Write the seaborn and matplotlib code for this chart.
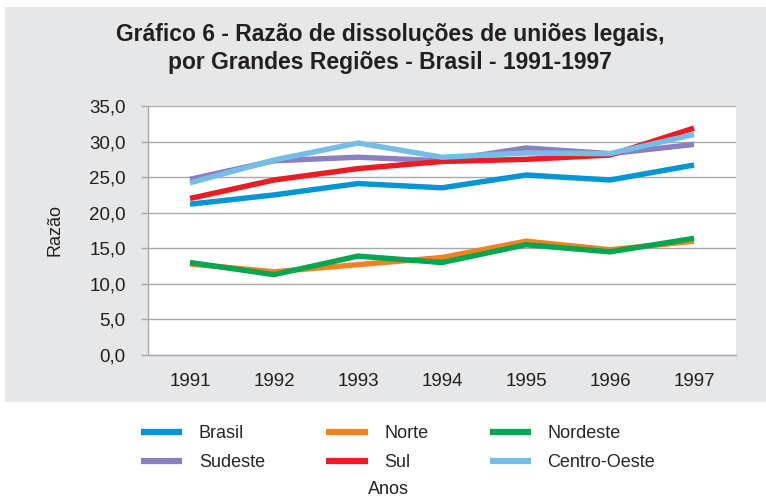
import pandas as pd
import seaborn as sns
import matplotlib
matplotlib.use("Agg")  # Use a non-interactive backend
import matplotlib.pyplot as plt
from matplotlib.patches import Rectangle

# Data
years = [1991, 1992, 1993, 1994, 1995, 1996, 1997]
regions = ["Brasil", "Norte", "Nordeste", "Sudeste", "Sul", "Centro-Oeste"]
brasil = [21.2, 22.5, 24.1, 23.5, 25.3, 24.6, 26.7]
norte = [12.8, 11.7, 12.7, 13.7, 16.0, 14.8, 16.0]
nordeste = [13.0, 11.3, 13.9, 13.0, 15.5, 14.5, 16.4]
sudeste = [24.7, 27.3, 27.8, 27.3, 29.1, 28.3, 29.6]
sul = [22.0, 24.6, 26.2, 27.2, 27.5, 28.1, 31.9]
centro_oeste = [24.2, 27.4, 29.8, 27.8, 28.4, 28.3, 31.0]
y_ticks = [0, 5, 10, 15, 20, 25, 30, 35]

colors = ["#0096d6", "#f58220", "#00a650", "#8c7fc0", "#ed1c24", "#74bde8"]

series = [brasil, norte, nordeste, sudeste, sul, centro_oeste]
df = pd.DataFrame({
    "Ano": years * len(regions),
    "Razao": [v for s in series for v in s],
    "Regiao": [r for r in regions for _ in years],
})

sns.set_style("white")
plt.rcParams['font.family'] = ['Liberation Sans', 'DejaVu Sans']

fig = plt.figure(figsize=(7.66, 4.97), dpi=100)
# gray panel behind title and plot
fig.patches.append(Rectangle((5 / 766, 1 - 402 / 497), 1 - 5 / 766, (402 - 7) / 497,
                             transform=fig.transFigure, facecolor="#e6e7e8",
                             edgecolor="none", zorder=-5))

ax = fig.add_axes([148 / 766, 1 - 355 / 497, 588 / 766, 249 / 497])
ax.set_zorder(2)
ax.set_facecolor("white")

sns.lineplot(data=df, x="Ano", y="Razao", hue="Regiao", hue_order=regions,
             palette=colors, linewidth=3.9, ax=ax, legend=True,
             solid_capstyle="butt")

ax.set_xlim(1990.5, 1997.5)
ax.set_ylim(0, 35)
ax.set_yticks(y_ticks)
ax.set_yticklabels([f"{t:.1f}".replace(".", ",") for t in y_ticks],
                   fontsize=13.5, color="#231f20")
ax.set_xticks(years)
ax.set_xticklabels([str(y) for y in years], fontsize=13.5, color="#231f20")
ax.set_xticks([y + 0.5 for y in [1990] + years], minor=True)
ax.tick_params(axis="x", which="major", length=0, pad=13)
ax.tick_params(axis="x", which="minor", length=5, color="#a7a9ac", width=1)
ax.tick_params(axis="y", length=5, color="#a7a9ac", width=1, pad=11, left=True)
ax.grid(axis="y", color="#a7a9ac", linewidth=1)
ax.set_axisbelow(True)
for side in ["top", "right"]:
    ax.spines[side].set_visible(False)
for side in ["left", "bottom"]:
    ax.spines[side].set_color("#a7a9ac")
    ax.spines[side].set_linewidth(1)
ax.set_xlabel("")
ax.set_ylabel("")

handles, labels = ax.get_legend_handles_labels()
ax.get_legend().remove()
for h in handles:
    h.set_linewidth(4.5)
    h.set_solid_capstyle("butt")
# legend fills column by column, so reorder to get rows like the reference
order = [0, 3, 1, 4, 2, 5]
fig.legend([handles[i] for i in order], [labels[i] for i in order], ncol=3,
           frameon=False, loc="center", bbox_to_anchor=(398 / 766, 1 - 448 / 497),
           fontsize=13, handlelength=2.3, columnspacing=3.4, labelspacing=0.67,
           handletextpad=0.9)

fig.text(390 / 766, 1 - 35 / 497, "Gráfico 6 - Razão de dissoluções de uniões legais,",
         ha="center", va="center", fontsize=16.5, fontweight="bold", color="#231f20")
fig.text(390 / 766, 1 - 63 / 497, "por Grandes Regiões - Brasil - 1991-1997",
         ha="center", va="center", fontsize=16.5, fontweight="bold", color="#231f20")
fig.text(55 / 766, 1 - 230 / 497, "Razão", rotation=90, ha="center", va="center",
         fontsize=13, color="#231f20")
fig.text(388 / 766, 1 - 489 / 497, "Anos", ha="center", va="center",
         fontsize=13, color="#231f20")

fig.savefig("out.png", dpi=100, facecolor="white")
